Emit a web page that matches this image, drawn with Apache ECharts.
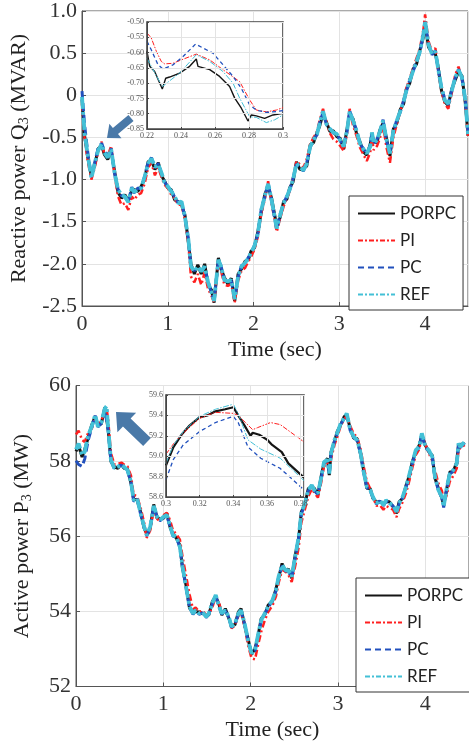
<!DOCTYPE html>
<html>
<head>
<meta charset="utf-8">
<script src="https://cdn.jsdelivr.net/npm/echarts@6/dist/echarts.min.js"></script>
<style>
html,body{margin:0;padding:0;background:#fff;}
#c{width:469px;height:749px;}
</style>
</head>
<body>
<div id="c"></div>
<script>
// ---------- Top plot: Reactive power Q3 ----------
const tQ = [0.00,0.03,0.07,0.11,0.15,0.19,0.23,0.26,0.30,0.34,
0.38,0.42,0.46,0.50,0.54,0.58,0.61,0.65,0.69,0.73,
0.77,0.81,0.85,0.89,0.93,0.96,1.00,1.04,1.08,1.12,
1.16,1.20,1.24,1.27,1.31,1.35,1.39,1.43,1.47,1.51,
1.54,1.59,1.62,1.66,1.70,1.74,1.78,1.82,1.86,1.90,
1.94,1.97,2.01,2.05,2.09,2.13,2.17,2.21,2.27,2.31,
2.35,2.39,2.42,2.46,2.50,2.54,2.58,2.62,2.66,2.70,
2.74,2.77,2.81,2.85,2.89,2.93,2.97,3.01,3.05,3.09,
3.12,3.16,3.20,3.24,3.28,3.32,3.36,3.38,3.40,3.44,
3.47,3.51,3.55,3.59,3.63,3.67,3.71,3.75,3.78,3.82,
3.86,3.90,3.94,3.98,4.00,4.04,4.08,4.12,4.15,4.19,
4.23,4.27,4.31,4.35,4.39,4.43,4.47,4.50];
const qREF = [-0.02,-0.45,-0.73,-0.98,-0.80,-0.65,-0.58,-0.68,-0.74,-0.64,
-0.92,-1.12,-1.18,-1.20,-1.27,-1.10,-1.15,-1.11,-1.10,-0.97,
-0.81,-0.75,-0.85,-0.82,-0.93,-1.03,-1.08,-1.14,-1.20,-1.28,
-1.26,-1.44,-1.71,-2.03,-2.09,-2.03,-2.09,-2.03,-2.22,-2.34,
-2.44,-1.95,-2.03,-2.19,-2.21,-2.19,-2.42,-2.15,-2.03,-1.99,
-1.93,-1.87,-1.79,-1.64,-1.36,-1.20,-1.05,-1.24,-1.58,-1.42,
-1.28,-1.20,-1.12,-1.00,-0.81,-0.85,-0.89,-0.81,-0.61,-0.53,
-0.46,-0.34,-0.19,-0.34,-0.40,-0.44,-0.46,-0.53,-0.61,-0.42,
-0.19,-0.30,-0.42,-0.57,-0.64,-0.69,-0.61,-0.44,-0.57,-0.53,
-0.44,-0.30,-0.53,-0.69,-0.42,-0.30,-0.19,-0.07,0.05,0.17,
0.29,0.40,0.52,0.72,0.88,0.60,0.49,0.52,0.33,0.09,
-0.06,-0.10,0.05,0.21,0.30,0.21,-0.07,-0.46];
const qPORPC = [-0.05,-0.48,-0.75,-0.96,-0.82,-0.63,-0.60,-0.70,-0.76,-0.66,
-0.90,-1.15,-1.22,-1.18,-1.25,-1.13,-1.12,-1.14,-1.08,-0.99,
-0.79,-0.77,-0.88,-0.80,-0.96,-1.01,-1.10,-1.12,-1.24,-1.26,
-1.30,-1.42,-1.74,-2.00,-2.12,-2.01,-2.12,-2.00,-2.25,-2.31,
-2.46,-1.93,-2.06,-2.16,-2.24,-2.17,-2.44,-2.12,-2.06,-1.97,
-1.95,-1.85,-1.81,-1.62,-1.39,-1.18,-1.08,-1.22,-1.55,-1.45,
-1.26,-1.23,-1.10,-1.03,-0.79,-0.88,-0.87,-0.84,-0.59,-0.56,
-0.44,-0.37,-0.22,-0.32,-0.43,-0.42,-0.49,-0.51,-0.64,-0.40,
-0.22,-0.28,-0.45,-0.55,-0.67,-0.71,-0.58,-0.46,-0.55,-0.56,
-0.42,-0.33,-0.51,-0.72,-0.40,-0.33,-0.17,-0.10,0.07,0.14,
0.31,0.37,0.54,0.69,0.85,0.57,0.51,0.49,0.35,0.06,
-0.08,-0.12,0.07,0.18,0.28,0.23,-0.10,-0.48];
const qPI = [-0.10,-0.50,-0.80,-1.00,-0.85,-0.66,-0.55,-0.70,-0.72,-0.60,
-0.95,-1.20,-1.30,-1.28,-1.36,-1.20,-1.24,-1.18,-1.16,-1.05,
-0.86,-0.80,-0.95,-0.86,-0.98,-1.06,-1.10,-1.18,-1.22,-1.30,
-1.30,-1.48,-1.76,-2.15,-2.22,-2.12,-2.25,-2.10,-2.30,-2.38,
-2.46,-1.97,-2.08,-2.25,-2.26,-2.24,-2.46,-2.20,-2.08,-2.05,
-1.97,-1.92,-1.83,-1.68,-1.40,-1.24,-1.02,-1.28,-1.62,-1.46,
-1.32,-1.22,-1.14,-0.98,-0.78,-0.82,-0.86,-0.76,-0.58,-0.50,
-0.43,-0.30,-0.16,-0.32,-0.45,-0.52,-0.55,-0.60,-0.66,-0.45,
-0.16,-0.36,-0.48,-0.62,-0.70,-0.78,-0.68,-0.48,-0.65,-0.60,
-0.52,-0.36,-0.62,-0.80,-0.50,-0.34,-0.20,-0.05,0.08,0.20,
0.32,0.44,0.56,0.78,0.96,0.64,0.52,0.56,0.30,0.05,
-0.10,-0.16,0.02,0.24,0.34,0.18,-0.12,-0.50];
const qPC = [0.05,-0.35,-0.70,-0.97,-0.79,-0.62,-0.57,-0.66,-0.72,-0.63,
-0.93,-1.11,-1.19,-1.21,-1.26,-1.09,-1.16,-1.10,-1.11,-0.96,
-0.80,-0.74,-0.86,-0.81,-0.94,-1.02,-1.09,-1.13,-1.21,-1.27,
-1.27,-1.45,-1.70,-2.04,-2.08,-2.04,-2.08,-2.04,-2.21,-2.35,
-2.43,-1.96,-2.02,-2.20,-2.20,-2.20,-2.41,-2.16,-2.02,-2.00,
-1.92,-1.88,-1.78,-1.65,-1.35,-1.21,-1.04,-1.25,-1.59,-1.41,
-1.29,-1.19,-1.13,-0.99,-0.82,-0.84,-0.90,-0.80,-0.62,-0.52,
-0.47,-0.33,-0.20,-0.35,-0.39,-0.45,-0.45,-0.54,-0.60,-0.43,
-0.18,-0.31,-0.41,-0.58,-0.63,-0.70,-0.60,-0.43,-0.58,-0.52,
-0.45,-0.29,-0.54,-0.68,-0.43,-0.29,-0.20,-0.06,0.04,0.18,
0.28,0.41,0.51,0.73,0.87,0.61,0.48,0.53,0.32,0.10,
-0.05,-0.11,0.06,0.20,0.31,0.20,-0.06,-0.45];

// top inset (zoom 0.22 - 0.30 s)
const iqT_PORPC = [0.220,0.2216,0.2245,0.2290,0.2310,0.2333,0.2392,0.2451,0.2490,0.2500,0.2569,0.2627,0.2686,0.2716,0.2755,0.2794,0.2814,0.2843,0.2892,0.2941,0.300];
const iqV_PORPC = [-0.596,-0.645,-0.662,-0.719,-0.684,-0.680,-0.667,-0.645,-0.621,-0.645,-0.656,-0.678,-0.711,-0.749,-0.782,-0.824,-0.804,-0.807,-0.815,-0.804,-0.799];
const iqT_PI = [0.220,0.2225,0.2255,0.2284,0.2304,0.2353,0.2402,0.2490,0.2569,0.2647,0.2745,0.2804,0.2843,0.2902,0.2961,0.300];
const iqV_PI = [-0.536,-0.552,-0.596,-0.629,-0.637,-0.635,-0.624,-0.605,-0.624,-0.656,-0.695,-0.755,-0.788,-0.794,-0.788,-0.780];
const iqT_PC = [0.220,0.2225,0.2265,0.2294,0.2353,0.2412,0.2486,0.2529,0.2588,0.2647,0.2706,0.2755,0.2804,0.2843,0.2902,0.2961,0.300];
const iqV_PC = [-0.563,-0.591,-0.640,-0.654,-0.640,-0.613,-0.572,-0.585,-0.602,-0.640,-0.678,-0.717,-0.771,-0.788,-0.796,-0.793,-0.790];
const iqT_REF = [0.220,0.2225,0.2290,0.2392,0.2490,0.2569,0.2647,0.2706,0.2745,0.2804,0.2843,0.2902,0.2951,0.300];
const iqV_REF = [-0.618,-0.645,-0.711,-0.667,-0.607,-0.629,-0.662,-0.700,-0.749,-0.810,-0.812,-0.829,-0.820,-0.804];

// ---------- Bottom plot: Active power P3 ----------
const tP = [0.00,0.03,0.07,0.10,0.14,0.18,0.22,0.25,0.29,0.33,
0.35,0.37,0.40,0.44,0.48,0.52,0.55,0.59,0.63,0.66,
0.70,0.74,0.78,0.81,0.85,0.89,0.93,0.96,1.00,1.04,
1.08,1.11,1.15,1.19,1.22,1.26,1.30,1.34,1.37,1.41,
1.45,1.49,1.52,1.56,1.60,1.64,1.67,1.71,1.75,1.78,
1.82,1.86,1.89,1.93,1.97,2.01,2.05,2.08,2.12,2.16,
2.20,2.25,2.29,2.32,2.36,2.40,2.43,2.47,2.51,2.55,
2.58,2.62,2.66,2.70,2.73,2.77,2.81,2.84,2.88,2.90,
2.92,2.96,2.99,3.03,3.07,3.10,3.14,3.18,3.22,3.26,
3.29,3.33,3.37,3.40,3.44,3.48,3.52,3.55,3.59,3.63,
3.67,3.70,3.74,3.78,3.82,3.85,3.89,3.93,3.96,4.00,
4.04,4.08,4.11,4.15,4.19,4.21,4.24,4.28,4.32,4.36,
4.38,4.40,4.45];
const pREF = [58.30,58.46,58.15,58.24,58.68,58.91,59.22,58.91,59.02,59.39,
59.45,58.82,58.02,57.80,57.84,57.89,57.84,57.75,57.44,56.95,
57.00,56.60,56.25,56.02,56.25,56.80,56.51,56.42,56.51,56.56,
56.25,56.02,55.98,55.71,55.18,54.65,54.12,53.94,54.03,53.94,
53.98,53.85,53.94,54.21,54.43,54.12,53.94,54.03,53.85,53.59,
53.68,53.94,54.03,53.68,53.23,52.88,52.97,53.32,53.76,53.94,
54.12,54.30,54.56,54.92,55.23,55.09,55.09,54.92,55.45,55.98,
56.60,56.87,57.22,57.35,57.22,57.13,57.58,57.97,58.02,57.66,
58.19,58.55,58.73,58.99,59.13,59.26,58.82,58.64,58.55,58.19,
57.75,57.31,57.22,57.04,56.87,56.95,56.82,56.95,56.87,56.82,
56.64,56.87,57.04,57.31,57.66,57.93,58.28,58.37,58.73,58.37,
58.28,58.10,57.58,57.22,57.04,56.78,57.22,57.66,57.75,57.93,
58.46,58.37,58.50];
const pPORPC = [58.25,58.40,58.10,58.30,58.62,58.95,59.18,58.95,58.98,59.42,
59.44,58.80,57.98,57.84,57.80,57.93,57.80,57.78,57.40,56.98,
56.96,56.64,56.21,56.06,56.21,56.84,56.47,56.46,56.47,56.60,
56.21,56.06,55.94,55.75,55.14,54.69,54.08,53.98,53.99,53.98,
53.94,53.89,53.90,54.25,54.40,54.16,53.90,54.07,53.81,53.63,
53.64,53.98,54.07,53.64,53.27,52.85,53.01,53.28,53.80,53.90,
54.16,54.26,54.60,54.88,55.27,55.05,55.13,54.88,55.49,55.94,
56.64,56.83,57.26,57.31,57.26,57.09,57.62,57.93,58.06,57.62,
58.23,58.51,58.77,58.95,59.17,59.22,58.86,58.60,58.59,58.15,
57.79,57.27,57.26,57.00,56.91,56.91,56.86,56.91,56.91,56.78,
56.60,56.91,57.00,57.35,57.62,57.97,58.24,58.41,58.69,58.41,
58.24,58.14,57.54,57.26,57.00,56.82,57.18,57.70,57.71,57.97,
58.42,58.41,58.46];
const pPI = [58.70,58.80,58.55,58.50,58.75,58.85,59.15,58.95,59.05,59.35,
59.42,59.05,58.20,57.90,57.92,57.95,57.90,57.85,57.60,57.10,
57.05,56.75,56.35,55.95,56.15,56.70,56.45,56.40,56.55,56.62,
56.40,56.15,56.05,55.90,55.45,54.95,54.45,54.05,54.10,53.98,
54.02,53.90,53.92,54.10,54.38,54.20,53.98,54.00,53.82,53.55,
53.62,53.88,53.95,53.60,53.10,52.75,52.72,53.05,53.45,53.75,
53.98,54.15,54.40,54.75,55.10,55.05,54.98,54.78,55.20,55.70,
56.35,56.70,57.05,57.25,57.15,57.02,57.45,57.85,57.95,57.70,
58.05,58.42,58.62,58.92,59.10,59.20,58.92,58.72,58.62,58.30,
57.90,57.45,57.25,57.05,56.80,56.82,56.70,56.80,56.75,56.70,
56.50,56.72,56.90,57.15,57.50,57.80,58.15,58.30,58.65,58.45,
58.20,58.00,57.75,57.40,57.20,56.92,57.05,57.45,57.60,57.80,
58.30,58.35,58.42];
const pPC = [58.00,57.90,57.85,58.05,58.55,58.88,59.20,58.90,59.00,59.36,
59.40,58.78,58.00,57.78,57.85,57.88,57.82,57.73,57.42,56.92,
56.98,56.58,56.23,56.00,56.23,56.78,56.49,56.40,56.49,56.54,
56.23,56.00,55.96,55.69,55.16,54.63,54.10,53.92,54.01,53.92,
53.96,53.83,53.92,54.19,54.41,54.10,53.92,54.01,53.83,53.57,
53.66,53.92,54.01,53.66,53.21,52.90,52.95,53.30,53.74,53.92,
54.10,54.28,54.54,54.90,55.21,55.07,55.07,54.90,55.43,55.96,
56.58,56.85,57.20,57.33,57.20,57.11,57.56,57.95,58.00,57.64,
58.17,58.53,58.71,58.97,59.11,59.24,58.80,58.62,58.53,58.17,
57.73,57.29,57.20,57.02,56.85,56.93,56.80,56.93,56.85,56.80,
56.62,56.85,57.02,57.29,57.64,57.91,58.26,58.35,58.71,58.35,
58.26,58.08,57.56,57.20,57.02,56.76,57.20,57.64,57.73,57.91,
58.44,58.35,58.48];

// bottom inset (zoom 0.30 - 0.38 s)
const ipT_PORPC = [0.300,0.3044,0.3092,0.3140,0.3198,0.3246,0.3294,0.3352,0.3400,0.3429,0.3467,0.3502,0.3515,0.3554,0.3602,0.3631,0.3688,0.3727,0.382];
const ipV_PORPC = [58.91,59.09,59.21,59.30,59.38,59.40,59.44,59.46,59.48,59.40,59.30,59.20,59.23,59.21,59.16,59.11,59.04,58.93,58.79];
const ipT_PI = [0.300,0.3044,0.3092,0.3198,0.3294,0.3400,0.3429,0.3515,0.3544,0.3621,0.3679,0.3737,0.382];
const ipV_PI = [59.02,59.12,59.21,59.37,59.43,59.42,59.40,59.26,59.28,59.33,59.31,59.24,59.14];
const ipT_PC = [0.300,0.3044,0.3102,0.3198,0.3294,0.3400,0.3429,0.3487,0.3563,0.3679,0.382];
const ipV_PC = [58.77,58.97,59.11,59.24,59.33,59.39,59.33,59.09,58.98,58.88,58.67];
const ipT_REF = [0.300,0.3044,0.3102,0.3198,0.3294,0.3400,0.3429,0.3487,0.3563,0.3679,0.382];
const ipV_REF = [58.93,59.11,59.24,59.39,59.46,59.51,59.42,59.16,59.07,58.98,58.76];

const names = ['PORPC','PI','PC','REF'];
const xTicksMain = ['0','1','2','3','4'];

// ---------- build ----------
const pair = (t, v) => t.map((x, i) => [x, v[i]]);
const serif = "'Liberation Serif','Times New Roman',serif";
const C = {PORPC:'#151515', PI:'#ff1f1f', PC:'#2150bd', REF:'#43c0d6'};

function mainSeries(name, data, xi, yi) {
  const st = {
    PORPC:{width:3, type:'solid'},
    PI:{width:2.5, type:[7,3,2,3]},
    PC:{width:3, type:[8,4]},
    REF:{width:3.8, type:[12,3,3,3]}
  }[name];
  return {type:'line', name, data, xAxisIndex:xi, yAxisIndex:yi, symbol:'none', z:2,
    lineStyle:{color:C[name], width:st.width, type:st.type}, itemStyle:{color:C[name]},
    animation:false, silent:true};
}
function insetSeries(name, data, xi, yi, blackW) {
  const st = {
    PORPC:{width:blackW, type:'solid'},
    PI:{width:1, type:[5,1.5,1.5,1.5]},
    PC:{width:1.3, type:[4,3]},
    REF:{width:1, type:[6,1.5,1.5,1.5]}
  }[name];
  return {type:'line', name, data, xAxisIndex:xi, yAxisIndex:yi, symbol:'none', z:12, zlevel:1,
    lineStyle:{color:C[name], width:st.width, type:st.type}, itemStyle:{color:C[name]},
    animation:false, silent:true};
}

const gridLine = {show:true, lineStyle:{color:'#e3e3e3', width:1}};
function mainX(gi) {
  return {type:'value', gridIndex:gi, min:0, max:4.5, interval:1,
    axisLine:{onZero:false, lineStyle:{color:'#555'}},
    axisTick:{inside:true, length:4, lineStyle:{color:'#555'}},
    splitLine:gridLine,
    axisLabel:{margin:7, showMaxLabel:false, fontFamily:serif, fontSize:22, color:'#333',
      formatter:(v)=>{const i = xTicksMain.indexOf(String(v)); return i>=0 ? xTicksMain[i] : '';}},
    name:'Time (sec)', nameLocation:'middle', nameGap:33,
    nameTextStyle:{fontFamily:serif, fontSize:22, color:'#222'}};
}
function insetAxisLabel(fmt, showMax) {
  return {fontFamily:serif, fontSize:8, color:'#555', margin:3, showMaxLabel:showMax, showMinLabel:true, hideOverlap:false, formatter:fmt};
}
const trim = (v)=>String(+v.toFixed(2));

const option = {
  animation:false,
  backgroundColor:'#fff',
  grid:[
    {left:82, top:9.5, width:386, height:296.5, show:true, borderColor:'#555', borderWidth:1, backgroundColor:'transparent'},
    {left:147, top:22, width:136, height:107, show:true, borderColor:'#444', borderWidth:1.6, backgroundColor:'#fff', z:10, zlevel:1},
    {left:76, top:385.5, width:402, height:301, show:true, borderColor:'#555', borderWidth:1, backgroundColor:'transparent'},
    {left:166, top:395, width:138, height:102, show:true, borderColor:'#444', borderWidth:1.6, backgroundColor:'#fff', z:10, zlevel:1}
  ],
  xAxis:[
    mainX(0),
    {type:'value', gridIndex:1, min:0.22, max:0.3, interval:0.02, z:15, zlevel:1,
      axisLine:{onZero:false, lineStyle:{color:'#444'}}, axisTick:{inside:true, length:2, lineStyle:{color:'#444'}},
      splitLine:gridLine, axisLabel:insetAxisLabel(trim, true)},
    mainX(2),
    {type:'value', gridIndex:3, min:0.3, max:0.382, interval:0.02, z:15, zlevel:1,
      axisLine:{onZero:false, lineStyle:{color:'#444'}}, axisTick:{inside:true, length:2, lineStyle:{color:'#444'}},
      splitLine:gridLine, axisLabel:insetAxisLabel(trim, false)}
  ],
  yAxis:[
    {type:'value', gridIndex:0, min:-2.5, max:1, interval:0.5,
      axisLine:{show:true, onZero:false, lineStyle:{color:'#555'}},
      axisTick:{show:true, inside:true, length:4, lineStyle:{color:'#555'}},
      splitLine:gridLine,
      axisLabel:{margin:5, fontFamily:serif, fontSize:22, color:'#333', formatter:(v)=> Math.abs(v)<1e-9 ? '0' : v.toFixed(1)},
      name:'{n|Reactive power Q}{s|3}{n| (MVAR)}', nameLocation:'middle', nameGap:48,
      nameTextStyle:{rich:{n:{fontFamily:serif, fontSize:22, color:'#222', lineHeight:24},
                           s:{fontFamily:serif, fontSize:14, color:'#222', lineHeight:12, verticalAlign:'bottom'}}}},
    {type:'value', gridIndex:1, min:-0.85, max:-0.5, interval:0.05, z:15, zlevel:1,
      axisLine:{show:true, onZero:false, lineStyle:{color:'#444'}}, axisTick:{show:true, inside:true, length:2, lineStyle:{color:'#444'}},
      splitLine:gridLine, axisLabel:insetAxisLabel((v)=>v.toFixed(2), true)},
    {type:'value', gridIndex:2, min:52, max:60, interval:2,
      axisLine:{show:true, onZero:false, lineStyle:{color:'#555'}},
      axisTick:{show:true, inside:true, length:4, lineStyle:{color:'#555'}},
      splitLine:gridLine,
      axisLabel:{margin:5, fontFamily:serif, fontSize:22, color:'#333'},
      name:'{n|Active power P}{s|3}{n| (MW)}', nameLocation:'middle', nameGap:42,
      nameTextStyle:{rich:{n:{fontFamily:serif, fontSize:22, color:'#222', lineHeight:24},
                           s:{fontFamily:serif, fontSize:14, color:'#222', lineHeight:12, verticalAlign:'bottom'}}}},
    {type:'value', gridIndex:3, min:58.6, max:59.6, interval:0.2, z:15, zlevel:1,
      axisLine:{show:true, onZero:false, lineStyle:{color:'#444'}}, axisTick:{show:true, inside:true, length:2, lineStyle:{color:'#444'}},
      splitLine:gridLine, axisLabel:insetAxisLabel((v)=>v.toFixed(1), true)}
  ],
  legend:[0,1].map(k => ({
    orient:'vertical', left: k===0 ? 349 : 356, top: k===0 ? 196 : 578,
    itemWidth:37, itemHeight:14, itemGap:10, padding:[9,7,7,8],
    borderColor:'#333', borderWidth:1, backgroundColor:'#fff', borderRadius:0,
    selectedMode:false, z:20, zlevel:1,
    itemStyle:{opacity:0},
    textStyle:{fontFamily:"Lato,'Open Sans',sans-serif", fontSize:17, color:'#222'},
    data:[
      {name:'PORPC', lineStyle:{width:2, type:'solid', opacity:1}},
      {name:'PI', lineStyle:{width:2, type:[5,2,2,2], opacity:1}},
      {name:'PC', lineStyle:{width:2, type:[6,4], opacity:1}},
      {name:'REF', lineStyle:{width:2, type:[5,2,2,2], opacity:1}}
    ]
  })),
  series:[
    mainSeries('PORPC', pair(tQ,qPORPC), 0, 0),
    mainSeries('PI', pair(tQ,qPI), 0, 0),
    mainSeries('PC', pair(tQ,qPC), 0, 0),
    mainSeries('REF', pair(tQ,qREF), 0, 0),
    insetSeries('PORPC', pair(iqT_PORPC,iqV_PORPC), 1, 1, 1.4),
    insetSeries('PI', pair(iqT_PI,iqV_PI), 1, 1),
    insetSeries('PC', pair(iqT_PC,iqV_PC), 1, 1),
    insetSeries('REF', pair(iqT_REF,iqV_REF), 1, 1),
    mainSeries('PORPC', pair(tP,pPORPC), 2, 2),
    mainSeries('PI', pair(tP,pPI), 2, 2),
    mainSeries('PC', pair(tP,pPC), 2, 2),
    mainSeries('REF', pair(tP,pREF), 2, 2),
    insetSeries('PORPC', pair(ipT_PORPC,ipV_PORPC), 3, 3, 2.2),
    insetSeries('PI', pair(ipT_PI,ipV_PI), 3, 3),
    insetSeries('PC', pair(ipT_PC,ipV_PC), 3, 3),
    insetSeries('REF', pair(ipT_REF,ipV_REF), 3, 3)
  ]
};

// pointer arrows (annotations)
function arrowPts(tip, tail, shaftW, headW, headL) {
  const dx = tip[0]-tail[0], dy = tip[1]-tail[1];
  const len = Math.hypot(dx, dy), ux = dx/len, uy = dy/len, nx = -uy, ny = ux;
  const bx = tip[0]-ux*headL, by = tip[1]-uy*headL;
  return [[tail[0]+nx*shaftW/2, tail[1]+ny*shaftW/2],[bx+nx*shaftW/2, by+ny*shaftW/2],
          [bx+nx*headW/2, by+ny*headW/2], tip, [bx-nx*headW/2, by-ny*headW/2],
          [bx-nx*shaftW/2, by-ny*shaftW/2],[tail[0]-nx*shaftW/2, tail[1]-ny*shaftW/2]];
}
option.graphic = [
  {type:'polygon', z:30, zlevel:1, shape:{points:arrowPts([107,138],[131,118],8,19,11)}, style:{fill:'#4a79a8'}},
  {type:'polygon', z:30, zlevel:1, shape:{points:arrowPts([116,412],[147,442],11,27,15)}, style:{fill:'#4a79a8'}}
];

const chart = echarts.init(document.getElementById('c'), null, {renderer:'canvas'});
chart.setOption(option);
</script>
</body>
</html>
